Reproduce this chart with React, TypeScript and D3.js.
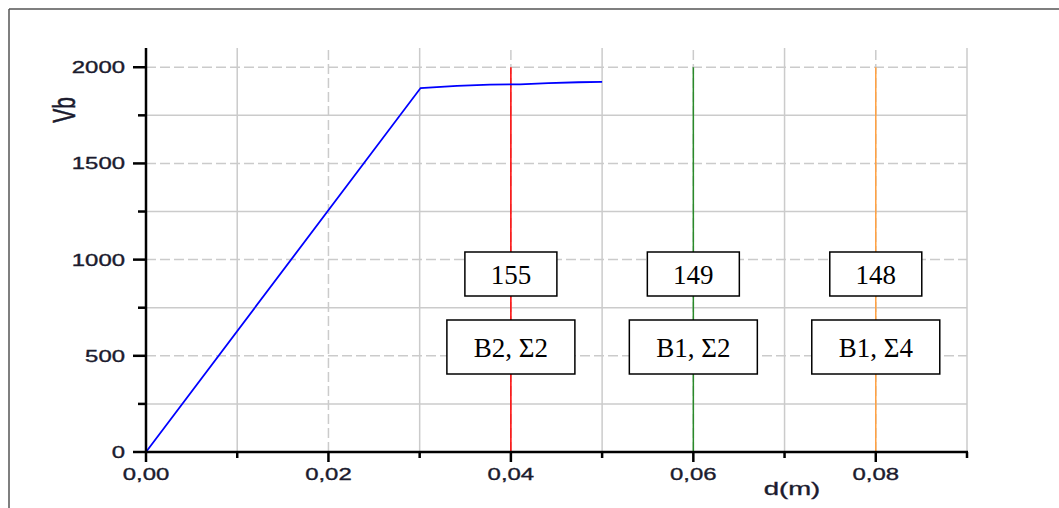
import React from 'react';
import * as d3 from 'd3';

// pushover curve (d in m, Vb)
const curveD = [0, 0.0301, 0.0341, 0.0377, 0.041, 0.0441, 0.0474, 0.05];
const curveVb = [0, 1892, 1903, 1910, 1911, 1917, 1922, 1924];

// marker lines
const markerD = [0.04, 0.06, 0.08];
const markerColors = ['#ff0000', '#2a8a2a', '#ffa040'];
const markerValues = ['155', '149', '148'];
const markerCases = ['B2, Σ2', 'B1, Σ2', 'B1, Σ4'];

const xTicks = [0, 0.02, 0.04, 0.06, 0.08];
const xMinor = [0.01, 0.03, 0.05, 0.07, 0.09];
const yTicks = [0, 500, 1000, 1500, 2000];
const yMinor = [250, 750, 1250, 1750];

const W = 1059;
const H = 508;
const STRETCH = 1.45;
const sans = '"Liberation Sans", Arial, sans-serif';
const serif = '"Liberation Serif", "Times New Roman", serif';
const tickColor = '#1b1b2e';
const gridColor = '#cbcbcb';

const App = () => {
    const x = d3.scaleLinear().domain([0, 0.09]).range([146, 967]);
    const y = d3.scaleLinear().domain([0, 2100]).range([452, 48]);

    const points = curveD.map((d, i) => [d, curveVb[i]] as [number, number]);
    const line = d3.line<[number, number]>()
        .x(d => x(d[0]))
        .y(d => y(d[1]));

    const fmt = (v: number) => v.toFixed(2).replace('.', ',');

    // slightly heavier sans text, like the raster export
    const heavy = { stroke: tickColor, strokeWidth: 0.35 };

    return (
        <svg width={W} height={H} style={{ position: 'absolute', left: 0, top: 0, background: '#fff' }}>
            {/* frame */}
            <line x1={9} x2={W} y1={9} y2={9} stroke="#555" strokeWidth={1.5} />
            <line x1={9} x2={9} y1={9} y2={H} stroke="#555" strokeWidth={1.5} />

            {/* grid */}
            {yTicks.filter(v => v > 0).map(v => (
                <line key={'gy' + v} x1={x(0)} x2={x(0.09)} y1={y(v)} y2={y(v)}
                    stroke={gridColor} strokeWidth={1.5} strokeDasharray="10 4" />
            ))}
            {yMinor.map(v => (
                <line key={'gym' + v} x1={x(0)} x2={x(0.09)} y1={y(v)} y2={y(v)}
                    stroke={gridColor} strokeWidth={1.5} />
            ))}
            {xTicks.filter(v => v > 0).map(v => (
                <line key={'gx' + v} x1={x(v)} x2={x(v)} y1={y(0)} y2={y(2100)}
                    stroke={gridColor} strokeWidth={1.5} strokeDasharray="10 4" />
            ))}
            {xMinor.map(v => (
                <line key={'gxm' + v} x1={x(v)} x2={x(v)} y1={y(0)} y2={y(2100)}
                    stroke={gridColor} strokeWidth={1.5} />
            ))}

            {/* marker lines */}
            {markerD.map((d, i) => (
                <line key={'m' + i} x1={x(d)} x2={x(d)} y1={y(2000)} y2={y(0)}
                    stroke={markerColors[i]} strokeWidth={1.5} />
            ))}

            {/* curve */}
            <path d={line(points) || ''} fill="none" stroke="#0000ff" strokeWidth={1.8} />

            {/* axes */}
            <line x1={x(0)} x2={x(0)} y1={y(0) + 1} y2={y(2100)} stroke="#000" strokeWidth={2.5} />
            <line x1={x(0) - 1} x2={x(0.09) + 1} y1={y(0)} y2={y(0)} stroke="#000" strokeWidth={2.5} />
            {yTicks.map(v => (
                <g key={'ty' + v}>
                    <line x1={x(0) - 13} x2={x(0)} y1={y(v)} y2={y(v)} stroke="#000" strokeWidth={2.5} />
                    <text transform={`translate(${x(0) - 21},${y(v)}) scale(${STRETCH},1)`}
                        textAnchor="end" dominantBaseline="central" fontFamily={sans}
                        fontSize={16.5} fill={tickColor} {...heavy}>{v}</text>
                </g>
            ))}
            {yMinor.map(v => (
                <line key={'tym' + v} x1={x(0) - 8} x2={x(0)} y1={y(v)} y2={y(v)} stroke="#000" strokeWidth={2.5} />
            ))}
            {xTicks.map(v => (
                <g key={'tx' + v}>
                    <line x1={x(v)} x2={x(v)} y1={y(0)} y2={y(0) + 10} stroke="#000" strokeWidth={2.5} />
                    <text transform={`translate(${x(v)},${y(0) + 22}) scale(${STRETCH},1)`}
                        textAnchor="middle" dominantBaseline="central" fontFamily={sans}
                        fontSize={16.5} fill={tickColor} {...heavy}>{fmt(v)}</text>
                </g>
            ))}
            {xMinor.map(v => (
                <line key={'txm' + v} x1={x(v)} x2={x(v)} y1={y(0)} y2={y(0) + 6} stroke="#000" strokeWidth={2.5} />
            ))}

            {/* axis titles */}
            <text transform={`translate(65,110) scale(${STRETCH},1) rotate(-90)`}
                textAnchor="middle" dominantBaseline="central" fontFamily={sans}
                fontSize={21} fill={tickColor} {...heavy}>Vb</text>
            <text transform={`translate(792,489) scale(${STRETCH},1)`}
                textAnchor="middle" dominantBaseline="central" fontFamily={sans}
                fontSize={19} fill={tickColor} {...heavy}>d(m)</text>

            {/* annotation boxes */}
            {markerD.map((d, i) => (
                <g key={'b' + i} transform={`translate(${x(d)},0)`}>
                    <rect x={-46} y={252} width={92} height={44} fill="#fff" stroke="#000" strokeWidth={1.5} />
                    <text x={0} y={275} textAnchor="middle" dominantBaseline="central"
                        fontFamily={serif} fontSize={27} fill="#000">{markerValues[i]}</text>
                    <rect x={-64} y={320} width={128} height={54} fill="#fff" stroke="#000" strokeWidth={1.5} />
                    <text x={0} y={348} textAnchor="middle" dominantBaseline="central"
                        fontFamily={serif} fontSize={27} fill="#000">{markerCases[i]}</text>
                </g>
            ))}
        </svg>
    );
};

export default App;
